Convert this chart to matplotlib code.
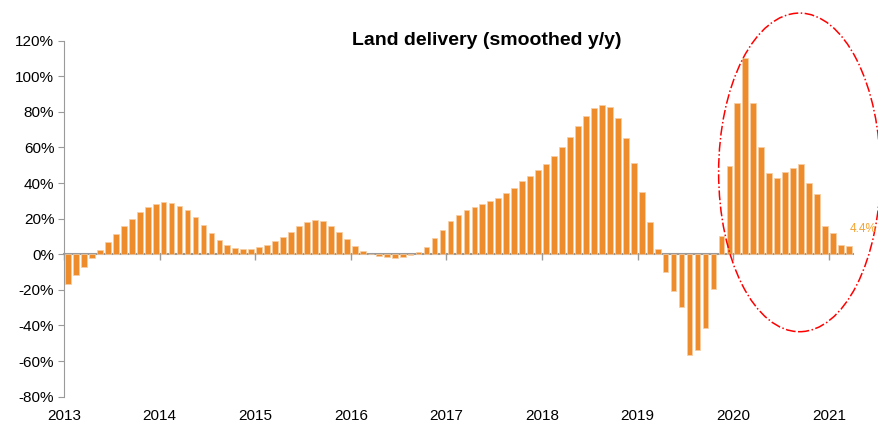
import numpy as np
import matplotlib.pyplot as plt
from matplotlib.patches import Ellipse

plt.rcParams['font.family'] = ['Liberation Sans', 'DejaVu Sans']

# monthly smoothed y/y growth, Jan 2013 - Mar 2021 (%)
valores = [
    -16.5, -11.8, -7.0, -2.0, 2.4, 7.0, 11.6, 15.9, 19.8, 23.6, 26.4, 28.4,   # 2013
    29.2, 28.8, 27.3, 24.7, 20.8, 16.5, 12.0, 7.9, 5.2, 3.5, 2.8, 3.0,        # 2014
    3.9, 5.2, 7.3, 9.7, 12.7, 15.7, 18.0, 19.1, 18.5, 16.0, 12.7, 8.5,        # 2015
    4.9, 2.1, 0.2, -0.7, -1.7, -2.1, -1.7, -0.5, 1.1, 4.3, 9.0, 13.9,         # 2016
    18.8, 22.3, 24.9, 26.6, 28.1, 29.8, 31.7, 34.3, 37.5, 41.0, 44.2, 47.6,   # 2017
    51.0, 55.3, 60.1, 65.9, 72.1, 77.5, 82.0, 84.1, 82.8, 76.4, 65.6, 51.3,   # 2018
    34.8, 18.2, 3.2, -9.8, -20.8, -29.4, -56.4, -53.8, -41.6, -19.7, 10.1, 49.7,  # 2019
    84.8, 110.5, 85.0, 60.3, 45.7, 42.9, 46.5, 48.5, 50.8, 40.3, 33.7, 16.0,  # 2020
    11.8, 5.4, 4.4,                                                            # 2021
]
anios = ["2013", "2014", "2015", "2016", "2017", "2018", "2019", "2020", "2021"]
ultimo = "4.4%"

naranja = "#EE8B2B"
gris = "#9A9A9A"

fig = plt.figure(figsize=(8.79, 4.22), dpi=100)
ax = fig.add_axes([0.0728, 0.06, 0.8975, 0.8436])

x = np.arange(len(valores))
ax.bar(x, valores, width=0.72, color=naranja, edgecolor="#F7CFA5", linewidth=0.5)

ax.set_xlim(-0.5, len(valores) - 0.5)
ax.set_ylim(-80, 120)
ax.set_yticks(np.arange(-80, 121, 20))
ax.set_yticklabels([f"{v}%" for v in range(-80, 121, 20)], fontsize=11)

# year labels at the bottom, tick marks on the zero line
posiciones = [12 * k - 0.5 for k in range(len(anios))]
ax.set_xticks(posiciones)
ax.set_xticklabels(anios, fontsize=11)
ax.tick_params(axis="x", length=0, pad=9)
ax.tick_params(axis="y", length=4, color=gris, pad=3)

cero = ax.secondary_xaxis(0.4)
cero.set_xticks(posiciones)
cero.set_xticklabels([])
cero.tick_params(length=4, color=gris, width=1)
cero.spines["bottom"].set_color(gris)
cero.spines["bottom"].set_linewidth(1.5)

for lado in ["top", "right", "bottom"]:
    ax.spines[lado].set_visible(False)
ax.spines["left"].set_color(gris)

fig.text(0.554, 0.905, "Land delivery (smoothed y/y)",
         fontsize=14, fontweight="bold", ha="center", va="center")

ax.text(len(valores) - 0.85, 14, ultimo, color="#F5A433", fontsize=8.5,
        ha="left", va="center", clip_on=False)

elipse = Ellipse((91.8, 46), width=20.3, height=179, fill=False,
                 edgecolor="red", linestyle="-.", linewidth=1.1, clip_on=False)
ax.add_patch(elipse)

plt.savefig("out.png", dpi=100)
